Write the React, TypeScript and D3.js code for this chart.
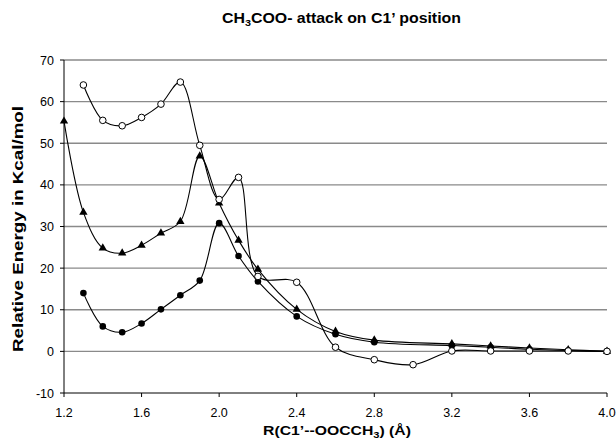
import * as d3 from "d3";

const width = 616;
const height = 445;

// distances (Å)
const rOpen = [1.3, 1.4, 1.5, 1.6, 1.7, 1.8, 1.9, 2.0, 2.1, 2.2, 2.4, 2.6, 2.8, 3.0, 3.2, 3.4, 3.6, 3.8, 4.0];
const eOpen = [64.0, 55.5, 54.2, 56.2, 59.4, 64.7, 49.5, 36.5, 41.8, 18.0, 16.6, 1.0, -2.0, -3.2, 0.1, 0.1, 0.1, 0.1, 0];

const rTri = [1.2, 1.3, 1.4, 1.5, 1.6, 1.7, 1.8, 1.9, 2.0, 2.1, 2.2, 2.4, 2.6, 2.8, 3.2, 3.4, 3.6, 3.8, 4.0];
const eTri = [55.3, 33.4, 24.8, 23.6, 25.5, 28.4, 31.2, 46.9, 35.6, 26.7, 19.7, 10.1, 4.8, 2.7, 1.8, 1.3, 0.8, 0.4, 0];

const rFill = [1.3, 1.4, 1.5, 1.6, 1.7, 1.8, 1.9, 2.0, 2.1, 2.2, 2.4, 2.6, 2.8, 3.2, 3.4, 3.6, 3.8, 4.0];
const eFill = [14.0, 6.0, 4.6, 6.7, 10.1, 13.5, 17.0, 30.8, 22.9, 16.8, 8.4, 4.1, 2.2, 1.4, 1.0, 0.5, 0.2, 0];

const xTicks = [1.2, 1.6, 2.0, 2.4, 2.8, 3.2, 3.6, 4.0];
const yTicks = [-10, 0, 10, 20, 30, 40, 50, 60, 70];

const x = d3.scaleLinear().domain([1.2, 4.0]).range([64, 607]);
const y = d3.scaleLinear().domain([-10, 70]).range([393, 60]);

const line = d3
  .line<[number, number]>()
  .x((d) => x(d[0]))
  .y((d) => y(d[1]))
  .curve(d3.curveCatmullRom.alpha(0.5));

const zip = (a: number[], b: number[]) => a.map((v, i) => [v, b[i]] as [number, number]);

const font = "Arial, 'Liberation Sans', sans-serif";

export default function App() {
  const open = zip(rOpen, eOpen);
  const tri = zip(rTri, eTri);
  const fill = zip(rFill, eFill);
  const triPath = d3.symbol().type(d3.symbolTriangle).size(30)();

  return (
    <svg
      width={width}
      height={height}
      style={{ position: "absolute", left: 0, top: 0, background: "#fff" }}
      fontFamily={font}
    >
      <text
        x={222}
        y={23}
        fontSize={14}
        fontWeight="bold"
        textLength={239}
        lengthAdjust="spacingAndGlyphs"
      >
        CH<tspan fontSize={9.5} dy={3}>3</tspan>
        <tspan dy={-3}>COO- attack on C1’ position</tspan>
      </text>

      {/* gridlines */}
      {yTicks.filter((t) => t > -10).map((t) => (
        <line key={t} x1={x(1.2)} x2={x(4.0)} y1={y(t)} y2={y(t)} stroke="#8a8a8a" strokeWidth={1.3} />
      ))}

      {/* axes */}
      <line x1={x(1.2)} x2={x(1.2)} y1={y(70)} y2={y(-10)} stroke="#000" />
      <line x1={x(1.2)} x2={x(4.0)} y1={y(-10)} y2={y(-10)} stroke="#000" />
      {yTicks.map((t) => (
        <g key={t}>
          <line x1={x(1.2) - 4} x2={x(1.2)} y1={y(t)} y2={y(t)} stroke="#000" />
          <text x={x(1.2) - 10} y={y(t) + 4.5} textAnchor="end" fontSize={12.5}>
            {t}
          </text>
        </g>
      ))}
      {xTicks.map((t) => (
        <g key={t}>
          <line x1={x(t)} x2={x(t)} y1={y(-10)} y2={y(-10) + 4} stroke="#000" />
          <text x={x(t)} y={y(-10) + 24} textAnchor="middle" fontSize={12.5}>
            {t.toFixed(1)}
          </text>
        </g>
      ))}

      <text
        x={263}
        y={435}
        fontSize={13.5}
        fontWeight="bold"
        textLength={148}
        lengthAdjust="spacingAndGlyphs"
      >
        R(C1’--OOCCH<tspan fontSize={9.5} dy={3}>3</tspan>
        <tspan dy={-3}>) (Å)</tspan>
      </text>
      <text
        transform={`translate(23,229) rotate(-90)`}
        textAnchor="middle"
        fontSize={14.5}
        fontWeight="bold"
        textLength={246}
        lengthAdjust="spacingAndGlyphs"
      >
        Relative Energy in Kcal/mol
      </text>

      {/* series */}
      <path d={line(open) ?? ""} fill="none" stroke="#000" strokeWidth={1.1} />
      <path d={line(tri) ?? ""} fill="none" stroke="#000" strokeWidth={1.1} />
      <path d={line(fill) ?? ""} fill="none" stroke="#000" strokeWidth={1.1} />

      {fill.map((d, i) => (
        <circle key={"f" + i} cx={x(d[0])} cy={y(d[1])} r={3.3} fill="#000" />
      ))}
      {tri.map((d, i) => (
        <path key={"t" + i} d={triPath ?? ""} transform={`translate(${x(d[0])},${y(d[1])})`} fill="#000" />
      ))}
      {open.map((d, i) => (
        <circle key={"o" + i} cx={x(d[0])} cy={y(d[1])} r={3.3} fill="#fff" stroke="#000" strokeWidth={1} />
      ))}
    </svg>
  );
}
